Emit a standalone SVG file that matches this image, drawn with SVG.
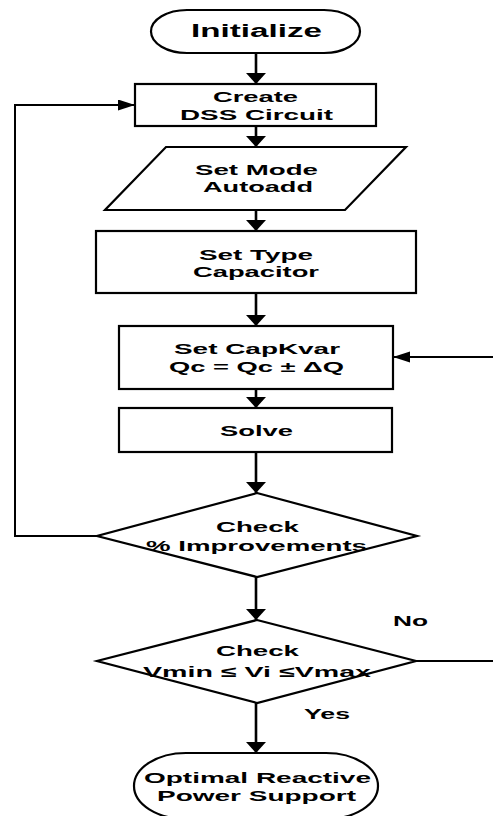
<svg xmlns="http://www.w3.org/2000/svg" width="493" height="816" viewBox="0 0 493 816">
<style>
.shape{fill:#fff;stroke:#000;stroke-width:2.2}
.t{font-family:"Liberation Sans",Arial,sans-serif;font-weight:bold;font-size:15px;fill:#000;text-anchor:middle}
.big{font-size:18px}
.c{fill:none;stroke:#000;stroke-width:2.6}
.ch{fill:none;stroke:#000;stroke-width:2}
</style>
<defs>
<marker id="av" markerUnits="userSpaceOnUse" markerWidth="12" markerHeight="20" refX="11" refY="10" orient="auto" viewBox="0 0 12 20"><path d="M0,0 L11,10 L0,20 z" fill="#000"/></marker>
<marker id="ah" markerUnits="userSpaceOnUse" markerWidth="18" markerHeight="12" refX="17" refY="5.5" orient="auto" viewBox="0 0 18 12"><path d="M0,0 L17,5.5 L0,11 z" fill="#000"/></marker>
</defs>
<rect width="493" height="816" fill="#fff"/>
<g id="connectors">
<path class="c" d="M256,53 V84" marker-end="url(#av)"/>
<path class="c" d="M256,126 V147" marker-end="url(#av)"/>
<path class="c" d="M256,210 V231" marker-end="url(#av)"/>
<path class="c" d="M256,293 V326" marker-end="url(#av)"/>
<path class="c" d="M256,389 V408" marker-end="url(#av)"/>
<path class="c" d="M256,452 V493" marker-end="url(#av)"/>
<path class="c" d="M256,577 V620" marker-end="url(#av)"/>
<path class="c" d="M256,703 V753" marker-end="url(#av)"/>
<path class="ch" d="M97,536 H15 V105 H135" marker-end="url(#ah)"/>
<path class="ch" d="M493,357 H393" marker-end="url(#ah)"/>
<path class="ch" d="M416,661 H493"/>
<text class="t" x="410.5" y="626" textLength="35" lengthAdjust="spacingAndGlyphs">No</text>
<text class="t" x="327" y="719" textLength="46" lengthAdjust="spacingAndGlyphs">Yes</text>
</g>
<g id="initialize">
<rect class="shape" x="151" y="10" width="209" height="43" rx="36" ry="21.5"/>
<text class="t big" x="256.5" y="37" textLength="131" lengthAdjust="spacingAndGlyphs">Initialize</text>
</g>
<g id="create">
<rect class="shape" x="135" y="84" width="241" height="42"/>
<text class="t" x="255.5" y="102" textLength="85" lengthAdjust="spacingAndGlyphs">Create</text>
<text class="t" x="256.5" y="119.5" textLength="153" lengthAdjust="spacingAndGlyphs">DSS Circuit</text>
</g>
<g id="setmode">
<polygon class="shape" points="166,147 406,147 345,210 105,210"/>
<text class="t" x="256.5" y="175" textLength="123" lengthAdjust="spacingAndGlyphs">Set Mode</text>
<text class="t" x="258" y="192" textLength="110" lengthAdjust="spacingAndGlyphs">Autoadd</text>
</g>
<g id="settype">
<rect class="shape" x="96" y="231" width="320" height="62"/>
<text class="t" x="256" y="260" textLength="114" lengthAdjust="spacingAndGlyphs">Set Type</text>
<text class="t" x="256" y="277" textLength="126" lengthAdjust="spacingAndGlyphs">Capacitor</text>
</g>
<g id="setcapkvar">
<rect class="shape" x="119" y="326" width="274" height="63"/>
<text class="t" x="257" y="354" textLength="166" lengthAdjust="spacingAndGlyphs">Set CapKvar</text>
<text class="t" x="256.5" y="372" textLength="175" lengthAdjust="spacingAndGlyphs">Qc = Qc ± ΔQ</text>
</g>
<g id="solve">
<rect class="shape" x="119" y="408" width="273" height="44"/>
<text class="t" x="256.5" y="436" textLength="73" lengthAdjust="spacingAndGlyphs">Solve</text>
</g>
<g id="check-improvements">
<polygon class="shape" points="257,493 417,536 257,577 97,536"/>
<text class="t" x="257.5" y="532" textLength="83" lengthAdjust="spacingAndGlyphs">Check</text>
<text class="t" x="256.5" y="551" textLength="221" lengthAdjust="spacingAndGlyphs">% Improvements</text>
</g>
<g id="check-voltage">
<polygon class="shape" points="257,620 416,661 257,703 97,661"/>
<text class="t" x="257.5" y="656" textLength="83" lengthAdjust="spacingAndGlyphs">Check</text>
<text class="t" x="257" y="677" textLength="228" lengthAdjust="spacingAndGlyphs">Vmin ≤ Vi ≤Vmax</text>
</g>
<g id="optimal">
<rect class="shape" x="134" y="753" width="244" height="66" rx="52" ry="33"/>
<text class="t" x="257.5" y="783" textLength="227" lengthAdjust="spacingAndGlyphs">Optimal Reactive</text>
<text class="t" x="256.5" y="801" textLength="199" lengthAdjust="spacingAndGlyphs">Power Support</text>
</g>
</svg>
